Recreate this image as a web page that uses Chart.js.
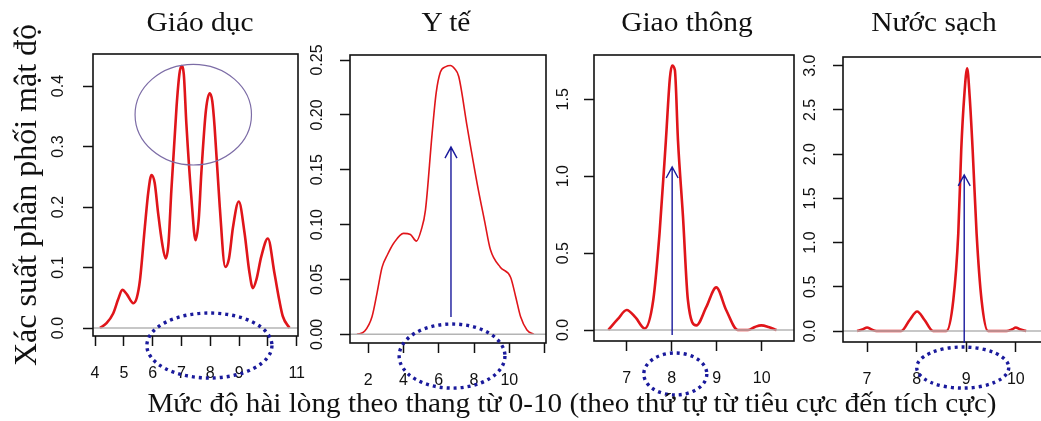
<!DOCTYPE html>
<html>
<head>
<meta charset="utf-8">
<script src="https://cdn.jsdelivr.net/npm/chart.js@4.4.0/dist/chart.umd.min.js"></script>
<style>
  body { margin: 0; width: 1041px; height: 421px; overflow: hidden; background: #fff; position: relative; }
  canvas { position: absolute; top: 0; }
  .ttl { position: absolute; top: 9px; font-family: "Liberation Serif", serif; font-size: 27px; line-height: 27px; color: #111; white-space: nowrap; transform: translateX(-50%) scaleX(1.09); }
  #xtitle { position: absolute; left: 572px; top: 390px; font-family: "Liberation Serif", serif; font-size: 27px; line-height: 27px; color: #111; white-space: nowrap; transform: translateX(-50%) scaleX(1.08); }
</style>
</head>
<body>
<canvas id="c1" width="310" height="421" style="left:0px"></canvas>
<canvas id="c2" width="260" height="421" style="left:300px"></canvas>
<canvas id="c3" width="260" height="421" style="left:548px"></canvas>
<canvas id="c4" width="260" height="421" style="left:797px"></canvas>
<div class="ttl" style="left:200px">Giáo dục</div>
<div class="ttl" style="left:446px">Y tế</div>
<div class="ttl" style="left:687px">Giao thông</div>
<div class="ttl" style="left:934px">Nước sạch</div>
<div id="xtitle">Mức độ hài lòng theo thang từ 0-10 (theo thứ tự từ tiêu cực đến tích cực)</div>
<script>
// Giáo dục
const xGiaoDuc = [4.17, 4.4, 4.63, 4.8, 4.95, 5.1, 5.33, 5.45, 5.56, 5.73, 5.85, 5.96, 6.07, 6.19, 6.33, 6.45, 6.55, 6.65, 6.83, 6.93, 7.0, 7.08, 7.17, 7.35, 7.49, 7.6, 7.69, 7.85, 7.98, 8.07, 8.15, 8.33, 8.52, 8.65, 8.79, 8.99, 9.19, 9.35, 9.48, 9.6, 9.77, 10.0, 10.23, 10.4, 10.52, 10.75];
const yGiaoDuc = [0, 0.008, 0.024, 0.047, 0.063, 0.056, 0.041, 0.05, 0.079, 0.167, 0.225, 0.253, 0.24, 0.19, 0.14, 0.115, 0.14, 0.228, 0.366, 0.42, 0.433, 0.42, 0.338, 0.212, 0.145, 0.18, 0.256, 0.36, 0.388, 0.375, 0.333, 0.2, 0.101, 0.115, 0.167, 0.209, 0.157, 0.095, 0.066, 0.08, 0.118, 0.148, 0.09, 0.045, 0.019, 0];

// Y tế
const xYTe = [1.36, 1.8, 2.21, 2.5, 2.78, 3.1, 3.44, 4.0, 4.39, 4.73, 5.0, 5.24, 5.62, 5.85, 6.09, 6.4, 6.66, 6.9, 7.13, 7.61, 8.18, 8.6, 8.93, 9.5, 10.07, 10.35, 10.64, 11.0, 11.39];
const yYTe = [0, 0.003, 0.016, 0.038, 0.061, 0.073, 0.083, 0.092, 0.091, 0.085, 0.095, 0.113, 0.183, 0.22, 0.239, 0.244, 0.245, 0.242, 0.235, 0.189, 0.137, 0.103, 0.077, 0.061, 0.052, 0.035, 0.016, 0.004, 0];

// Giao thông
const xGiaoThong = [6.59, 6.8, 7.0, 7.2, 7.4, 7.59, 7.73, 7.87, 7.96, 8.01, 8.07, 8.14, 8.25, 8.36, 8.55, 8.77, 8.99, 9.21, 9.47, 9.69, 9.85, 9.99, 10.15, 10.33];
const yGiaoThong = [0, 0.07, 0.13, 0.08, 0.01, 0.195, 0.63, 1.23, 1.64, 1.72, 1.69, 1.23, 0.74, 0.195, 0.03, 0.15, 0.277, 0.13, 0, 0, 0.02, 0.03, 0.02, 0];

// Nước sạch
const xNuocSach = [6.8, 6.92, 7.0, 7.08, 7.19, 7.69, 7.86, 8.01, 8.16, 8.33, 8.6, 8.74, 8.84, 8.9, 8.96, 9.02, 9.07, 9.13, 9.21, 9.31, 9.44, 9.81, 9.93, 10.0, 10.08, 10.21];
const yNuocSach = [0, 0.02, 0.04, 0.02, 0, 0, 0.125, 0.22, 0.125, 0, 0, 0.35, 1.1, 2.05, 2.65, 2.97, 2.65, 2.05, 1.1, 0.35, 0, 0, 0.02, 0.04, 0.02, 0];

// tick values and labels
const xTicks1 = [4, 5, 6, 7, 8, 9, 10, 11];
const xLabels1 = ['4', '5', '6', '7', '8', '9', '', '11'];
const yTicks1 = [0, 0.1, 0.2, 0.3, 0.4];
const xTicks2 = [2, 4, 6, 8, 10, 12];
const xLabels2 = ['2', '4', '6', '8', '10', ''];
const yTicks2 = [0, 0.05, 0.10, 0.15, 0.20, 0.25];
const xTicks3 = [7, 8, 9, 10];
const xLabels3 = ['7', '8', '9', '10'];
const yTicks3 = [0, 0.5, 1.0, 1.5];
const xTicks4 = [7, 8, 9, 10];
const xLabels4 = ['7', '8', '9', '10'];
const yTicks4 = [0, 0.5, 1.0, 1.5, 2.0, 2.5, 3.0];

// overlays in data units: [cx, cy, rx, ry]
const ringGiaoDuc = [7.41, 0.3526, 2.02, 0.0832];
const dotsGiaoDuc = [7.97, -0.0289, 2.17, 0.0537];
const dotsYTe = [6.75, -0.0198, 3.0, 0.0292];
const dotsGiaoThong = [8.08, -0.286, 0.70, 0.1365];
const dotsNuocSach = [8.93, -0.413, 0.928, 0.232];
// arrows: [x, yFrom, yTo]
const arrowYTe = [6.69, 0.0158, 0.1707];
const arrowGiaoThong = [8.01, -0.0325, 1.06];
const arrowNuocSach = [8.96, -0.136, 1.765];

const RED = '#e0151a';
const NAVY = '#1a1a9c';

function ellipse(ctx, xs, ys, e) {
    const cx = xs.getPixelForValue(e[0]);
    const cy = ys.getPixelForValue(e[1]);
    const rx = Math.abs(xs.getPixelForValue(e[0] + e[2]) - cx);
    const ry = Math.abs(ys.getPixelForValue(e[1] + e[3]) - cy);
    ctx.beginPath();
    ctx.ellipse(cx, cy, rx, ry, 0, 0, Math.PI * 2);
    ctx.stroke();
}

const frame = {
    id: 'frame',
    afterDatasetsDraw(chart) {
        const {ctx, chartArea: a} = chart;
        const y0 = chart.scales.y.getPixelForValue(0);
        ctx.save();
        ctx.strokeStyle = '#b4b4b4';
        ctx.lineWidth = 1.5;
        ctx.beginPath();
        ctx.moveTo(a.left, y0);
        ctx.lineTo(a.right, y0);
        ctx.stroke();
        ctx.strokeStyle = '#111';
        ctx.lineWidth = 1.6;
        ctx.strokeRect(a.left, a.top, a.right - a.left, a.bottom - a.top);
        ctx.restore();
    },
    afterDraw(chart, args, opts) {
        const {ctx} = chart;
        const xs = chart.scales.x, ys = chart.scales.y;
        ctx.save();
        if (opts.ring) {
            ctx.strokeStyle = '#7c6ca6';
            ctx.lineWidth = 1.2;
            ellipse(ctx, xs, ys, opts.ring);
        }
        if (opts.arrow) {
            const px = xs.getPixelForValue(opts.arrow[0]);
            const p0 = ys.getPixelForValue(opts.arrow[1]);
            const p1 = ys.getPixelForValue(opts.arrow[2]);
            ctx.strokeStyle = NAVY;
            ctx.lineWidth = 1.4;
            ctx.beginPath();
            ctx.moveTo(px, p0);
            ctx.lineTo(px, p1);
            ctx.moveTo(px - 6, p1 + 11);
            ctx.lineTo(px, p1);
            ctx.lineTo(px + 6, p1 + 11);
            ctx.stroke();
        }
        if (opts.dots) {
            ctx.strokeStyle = NAVY;
            ctx.lineWidth = 3.4;
            ctx.setLineDash([3, 4]);
            ellipse(ctx, xs, ys, opts.dots);
        }
        ctx.restore();
    }
};

function make_panel(id, p) {
    const pts = p.xs.map(function (v, i) { return {x: v, y: p.ys[i]}; });
    return new Chart(document.getElementById(id), {
        type: 'line',
        data: {
            datasets: [{
                data: pts,
                borderColor: RED,
                borderWidth: p.lw,
                pointRadius: 0,
                cubicInterpolationMode: 'monotone',
                fill: false
            }]
        },
        options: {
            responsive: false,
            animation: false,
            events: [],
            layout: {padding: p.pad},
            plugins: {
                legend: {display: false},
                tooltip: {enabled: false},
                frame: {ring: p.ring, dots: p.dots, arrow: p.arrow}
            },
            scales: {
                x: {
                    type: 'linear',
                    min: p.xr[0],
                    max: p.xr[1],
                    afterBuildTicks: function (s) { s.ticks = p.xt.map(function (v) { return {value: v}; }); },
                    afterFit: function (s) { s.height = 50; s.paddingLeft = 0; s.paddingRight = 0; },
                    grid: {drawOnChartArea: false, drawTicks: true, tickLength: 10, tickColor: '#111', tickWidth: 1.5},
                    border: {display: false},
                    ticks: {
                        padding: 18,
                        color: '#111',
                        font: {family: 'Liberation Sans', size: 16},
                        callback: function (v) { return p.xl[p.xt.indexOf(v)]; }
                    }
                },
                y: {
                    type: 'linear',
                    min: p.yr[0],
                    max: p.yr[1],
                    afterBuildTicks: function (s) { s.ticks = p.yt.map(function (v) { return {value: v}; }); },
                    afterFit: function (s) { s.width = p.yw; s.paddingTop = 0; s.paddingBottom = 0; },
                    grid: {drawOnChartArea: false, drawTicks: true, tickLength: 10, tickColor: '#111', tickWidth: 1.5},
                    border: {display: false},
                    title: p.ytitle ? {
                        display: true,
                        text: p.ytitle,
                        color: '#111',
                        font: {family: 'Liberation Serif', size: 32},
                        padding: {top: 8, bottom: 0}
                    } : {display: false},
                    ticks: {
                        minRotation: 90,
                        maxRotation: 90,
                        crossAlign: 'center',
                        padding: p.ypad,
                        color: '#111',
                        font: {family: 'Liberation Sans', size: 16},
                        callback: function (v) { return v.toFixed(p.dec); }
                    }
                }
            }
        },
        plugins: [frame]
    });
}

make_panel('c1', {
    xs: xGiaoDuc, ys: yGiaoDuc, lw: 2.6,
    xr: [3.93, 11.045], yr: [-0.0132, 0.4529],
    xt: xTicks1, xl: xLabels1, yt: yTicks1, dec: 1,
    yw: 93, ypad: 13, pad: {top: 54, right: 12, bottom: 35, left: 0},
    ytitle: 'Xác suất phân phối mật độ',
    ring: ringGiaoDuc, dots: dotsGiaoDuc
});
make_panel('c2', {
    xs: xYTe, ys: yYTe, lw: 1.6,
    xr: [0.962, 12.08], yr: [-0.0079, 0.2546],
    xt: xTicks2, xl: xLabels2, yt: yTicks2, dec: 2,
    yw: 50, ypad: 7, pad: {top: 55, right: 14, bottom: 28, left: 0},
    dots: dotsYTe, arrow: arrowYTe
});
make_panel('c3', {
    xs: xGiaoThong, ys: yGiaoThong, lw: 2.6,
    xr: [6.273, 10.718], yr: [-0.0715, 1.788],
    xt: xTicks3, xl: xLabels3, yt: yTicks3, dec: 1,
    yw: 46, ypad: 9, pad: {top: 55, right: 14, bottom: 30, left: 0},
    dots: dotsGiaoThong, arrow: arrowGiaoThong
});
make_panel('c4', {
    xs: xNuocSach, ys: yNuocSach, lw: 2.6,
    xr: [6.515, 10.65], yr: [-0.124, 3.098],
    xt: xTicks4, xl: xLabels4, yt: yTicks4, dec: 1,
    yw: 46, ypad: 11, pad: {top: 57, right: 9, bottom: 29, left: 0},
    dots: dotsNuocSach, arrow: arrowNuocSach
});
</script>
</body>
</html>
